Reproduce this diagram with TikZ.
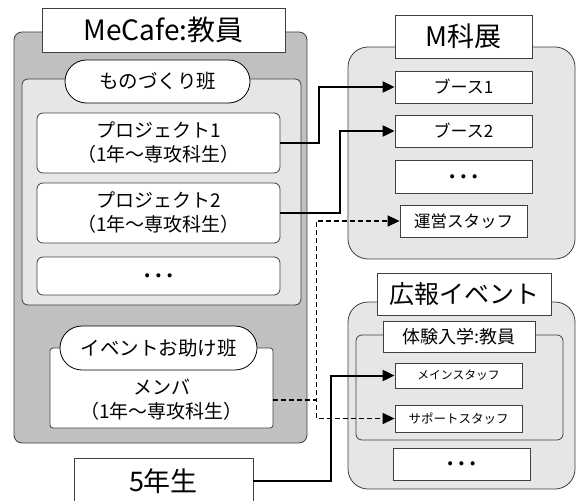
\documentclass[tikz,border=0pt]{standalone}
\usepackage{fontspec}
\setmainfont{Noto Sans CJK JP}
\usetikzlibrary{shapes.misc,arrows.meta}
\definecolor{darkgrp}{HTML}{C0C0C0}
\definecolor{lightgrp}{HTML}{E6E6E6}
\definecolor{edge}{HTML}{404040}
\begin{document}
\begin{tikzpicture}[x=1pt,y=-1pt,
  grp/.style={draw=edge,line width=0.8pt,inner sep=0pt},
  wbox/.style={draw=edge,line width=0.8pt,fill=white,inner sep=0pt,align=center},
  pill/.style={rounded rectangle,draw=black,line width=0.8pt,fill=white,inner sep=0pt},
  conn/.style={line width=2pt,-{Triangle[length=12pt,width=11pt]}},
  dconn/.style={line width=1.4pt,dash pattern=on 5pt off 3pt,-{Triangle[length=12pt,width=11pt]}},
  fa/.style={font=\fontsize{28}{30}\selectfont},
  fb/.style={font=\fontsize{19}{24}\selectfont},
  fg/.style={font=\fontsize{19.5}{22}\selectfont},
  fc/.style={font=\fontsize{17}{20}\selectfont},
  fd/.style={font=\fontsize{12.5}{15}\selectfont},
  dots/.style={font=\fontsize{30}{30}\selectfont}
]
\useasboundingbox (0,0) rectangle (580,500);
\fill[white] (0,0) rectangle (580,500);

% MeCafe group
\node[grp,fill=darkgrp,rounded corners=8pt,minimum width=293pt,minimum height=411pt] (mecafe) at (160.5,237.5) {};
\node[grp,fill=lightgrp,rounded corners=6pt,minimum width=279pt,minimum height=226pt] (mono) at (161.5,192) {};
\node[wbox,minimum width=243pt,minimum height=44pt,fa] (mect) at (163.5,30) {MeCafe:教員};
\node[pill,minimum width=185pt,minimum height=43pt,fg] (monot) at (157.5,81.5) {ものづくり班};
\node[wbox,rounded corners=6pt,minimum width=243pt,minimum height=60pt,fb] (p1) at (158.5,143) {プロジェクト1\\（1年～専攻科生）};
\node[wbox,rounded corners=6pt,minimum width=243pt,minimum height=60pt,fb] (p2) at (158.5,213) {プロジェクト2\\（1年～専攻科生）};
\node[wbox,rounded corners=6pt,minimum width=243pt,minimum height=38pt,dots] (pd) at (158.5,276) {…};
\node[wbox,rounded corners=3pt,minimum width=223pt,minimum height=80pt] (ev) at (161.5,388) {};
\node[fb,align=center] (mem) at (161.5,400) {メンバ\\（1年～専攻科生）};
\node[pill,minimum width=197pt,minimum height=44pt,fg] (evt) at (158.5,348) {イベントお助け班};
\coordinate (memr) at (ev.east|-mem);

% 5th year
\node[wbox,minimum width=179pt,minimum height=46pt,font=\fontsize{27}{29}\selectfont] (g5) at (163.5,481) {5年生};

% M科展
\node[grp,fill=lightgrp,rounded corners=20pt,minimum width=227pt,minimum height=212pt] (mk) at (461.5,153) {};
\node[wbox,minimum width=137pt,minimum height=43pt,font=\fontsize{27}{29}\selectfont] (mkt) at (463.5,36.5) {M科展};
\node[wbox,minimum width=137pt,minimum height=32pt,fc] (b1) at (463.5,87) {ブース1};
\node[wbox,minimum width=137pt,minimum height=32pt,fc] (b2) at (463.5,131) {ブース2};
\node[wbox,minimum width=137pt,minimum height=33pt,dots] (bd) at (463.5,176.5) {…};
\node[wbox,minimum width=127pt,minimum height=32pt,font=\fontsize{16.5}{20}\selectfont] (un) at (463.5,221) {運営スタッフ};

% 広報イベント
\node[grp,fill=lightgrp,rounded corners=20pt,minimum width=227pt,minimum height=187pt] (kh) at (461.5,395.5) {};
\node[wbox,minimum width=174pt,minimum height=42pt,font=\fontsize{25}{27}\selectfont] (kht) at (464,294) {広報イベント};
\node[grp,fill=lightgrp,rounded corners=6pt,minimum width=207pt,minimum height=105pt] (tk) at (459.5,387.5) {};
\node[wbox,minimum width=152pt,minimum height=31pt,font=\fontsize{18}{20}\selectfont] (tkt) at (459,336.5) {体験入学:教員};
\node[wbox,minimum width=127pt,minimum height=25pt,font=\fontsize{11.8}{14}\selectfont] (ms) at (458.5,375.5) {メインスタッフ};
\node[wbox,minimum width=127pt,minimum height=27pt,fd] (ss) at (458.5,418.5) {サポートスタッフ};
\node[wbox,minimum width=137pt,minimum height=32pt,dots] (kd) at (461.5,464) {…};

% connectors
\draw[conn] (p1.east) -- ++(39,0) |- (b1.west);
\draw[conn] (p2.east) -- ++(60,0) |- (b2.west);
\draw[dconn] (memr) -- ++(43,0) |- (un.west);
\draw[dconn] (memr) -- ++(43,0) |- (ss.west);
\draw[conn] (g5.east) -- ++(78,0) |- (ms.west);
\end{tikzpicture}
\end{document}
